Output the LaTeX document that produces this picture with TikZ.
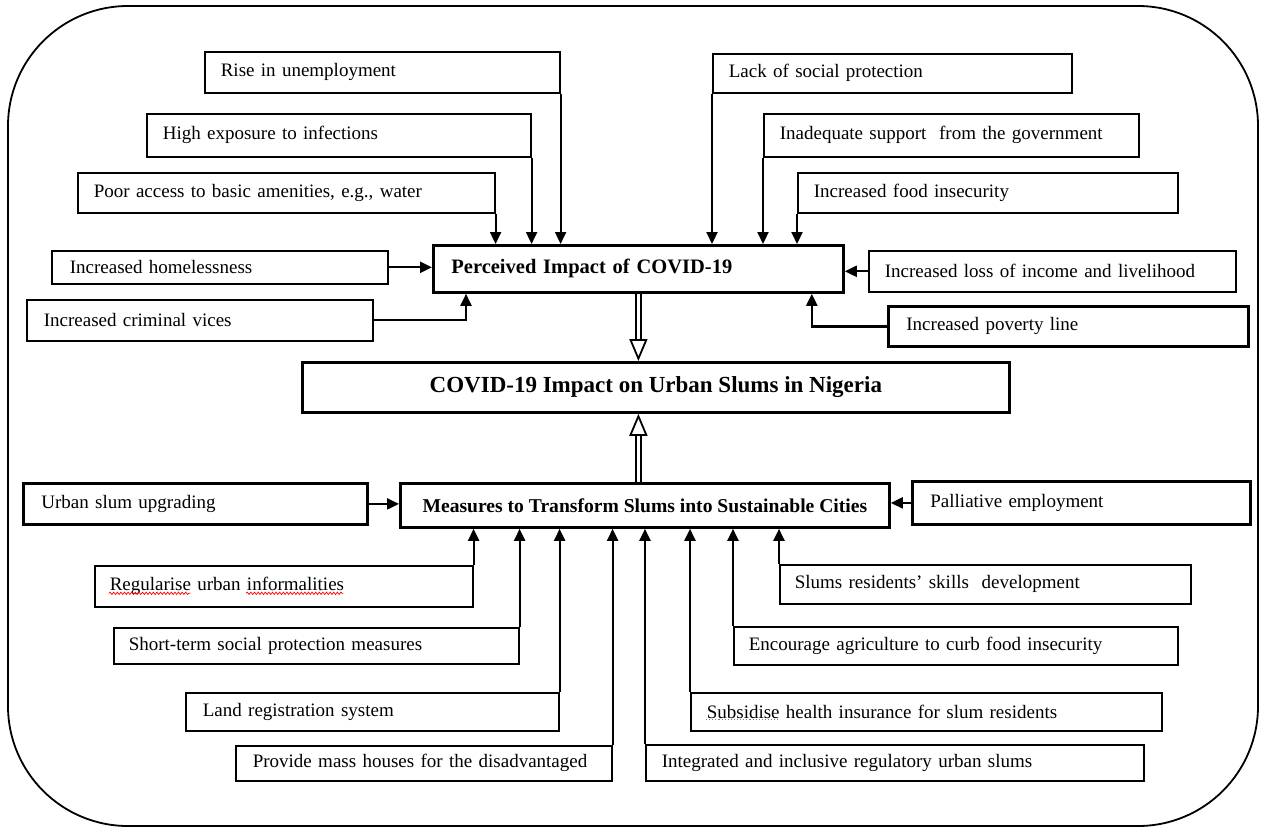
\documentclass[tikz,border=0pt]{standalone}
\usepackage{fontspec}
\setmainfont{Liberation Serif}
\usetikzlibrary{arrows.meta,decorations.pathmorphing}
\newlength\wregul
\newlength\wregurb
\newlength\winform
\newlength\wsubs
\tikzset{
  box/.style n args={3}{draw, line width=1.6pt, anchor=north west, inner xsep=#3, inner ysep=0pt,
     minimum height=#2, /utils/exec={\pgfmathsetlengthmacro\boxtw{#1-2*(#3)}}, text width=\boxtw,
     align=left, font=\fontsize{19}{22}\selectfont},
  heavy/.style={line width=2.8pt},
  centrebox/.style n args={2}{draw, line width=2.8pt, anchor=north west, inner sep=0pt,
     minimum width=#1, minimum height=#2},
  frame/.style={draw, line width=1.8pt, rounded corners=120pt, inner sep=0pt},
  arr/.style={line width=2.2pt, -{Triangle[length=12pt, width=11pt]}},
  dbl/.style={double, double distance=3.5pt, line width=1.6pt,
     -{Triangle[open, fill=white, length=22pt, width=18pt, line width=1.8pt]}},
  spellwave/.style={red, line width=0.7pt, decorate, decoration={snake, amplitude=1.2pt, segment length=3.6pt}},
  graydot/.style={gray, line width=1.1pt, dotted},
}
\begin{document}
\begin{tikzpicture}[x=1pt, y=-1pt]
\useasboundingbox (0,0) rectangle (1263,830);
\fill[white] (0,0) rectangle (1263,830);
\node[frame, minimum width=1250pt, minimum height=820pt] (frame) at (633,416) {};

% top boxes
\node[box={355pt}{41pt}{16pt}] (rise) at (204,51) {Rise in unemployment};
\node[box={384pt}{43pt}{16pt}] (high) at (146,113) {High exposure to infections};
\node[box={417pt}{40pt}{16pt}] (poor) at (77,172) {Poor access to basic amenities, e.g., water};
\node[box={359pt}{39pt}{16pt}] (lack) at (712,53) {Lack of social protection};
\node[box={375pt}{43pt}{16pt}] (inad) at (763,113) {Inadequate support~ from the government};
\node[box={380pt}{40pt}{16pt}] (food) at (797,172) {Increased food insecurity};
\node[box={336pt}{33pt}{18pt}] (homeless) at (51,250) {Increased homelessness};
\node[box={367pt}{41pt}{16pt}] (loss) at (868,250) {Increased loss of income and livelihood};
\node[box={346pt}{41pt}{17pt}] (crime) at (26,299) {Increased criminal vices};
\node[box={360pt}{40pt}{18pt}, heavy] (pov) at (887,305) {Increased poverty line};

% central boxes
\node[box={410pt}{47pt}{18pt}, heavy, font=\bfseries\fontsize{20.5}{24}\selectfont] (perc) at (432,244) {Perceived Impact of COVID-19};
\node[centrebox={707pt}{50pt}, font=\bfseries\fontsize{23}{27}\selectfont] (covid) at (301,361) {COVID-19 Impact on Urban Slums in Nigeria};
\node[centrebox={489pt}{44pt}, font=\bfseries\fontsize{19.6}{23}\selectfont] (meas) at (399,482) {Measures to Transform Slums into Sustainable Cities};

% side boxes of measures
\node[box={344pt}{41pt}{18pt}, heavy] (urban) at (22,482) {Urban slum upgrading};
\node[box={338pt}{43pt}{18pt}, heavy] (pall) at (911,480) {Palliative employment};

% bottom boxes
\node[box={378pt}{41pt}{15pt}] (reg) at (94,565) {{\setbox0\hbox{Regularise}\global\wregul=\wd0
  \setbox0\hbox{Regularise urban }\global\wregurb=\wd0
  \setbox0\hbox{informalities}\global\winform=\wd0}Regularise urban informalities};
\node[box={405pt}{36pt}{15pt}] (short) at (113,627) {Short-term social protection measures};
\node[box={373pt}{38pt}{17pt}] (land) at (185,692) {Land registration system};
\node[box={376pt}{35pt}{17pt}] (mass) at (235,745) {Provide mass houses for the disadvantaged};
\node[box={411pt}{39pt}{15pt}] (slums) at (779,564) {Slums residents' skills~ development};
\node[box={444pt}{38pt}{15pt}] (enc) at (733,626) {Encourage agriculture to curb food insecurity};
\node[box={471pt}{38pt}{16pt}] (subs) at (690,692) {{\setbox0\hbox{Subsidise}\global\wsubs=\wd0}Subsidise health insurance for slum residents};
\node[box={498pt}{36pt}{16pt}] (integ) at (645,744) {Integrated and inclusive regulatory urban slums};

% spell-check underlines
\coordinate (rw) at ([xshift=15pt, yshift=-7pt]reg.west);
\draw[spellwave] (rw) -- ([xshift=\wregul]rw);
\draw[spellwave] ([xshift=\wregurb]rw) -- ([xshift=\wregurb+\winform]rw);
\coordinate (sw) at ([xshift=16pt, yshift=-8pt]subs.west);
\draw[graydot] (sw) -- ([xshift=\wsubs]sw);

% connectors into Perceived Impact
\foreach \n in {poor,high,rise} \draw[arr] (\n.south east) -- (\n.south east |- perc.north);
\foreach \n in {lack,inad,food} \draw[arr] (\n.south west) -- (\n.south west |- perc.north);
\draw[arr] (homeless.east) -- (homeless.east -| perc.west);
\draw[arr] (loss.west) -- (loss.west -| perc.east);
\coordinate (cj) at ([xshift=34pt]perc.south west);
\coordinate (pj) at ([xshift=-33pt]perc.south east);
\draw[arr] (crime.east) -| (cj);
\draw[arr] (pov.west) -| (pj);

% double arrows
\draw[dbl] (perc.south) -- (perc.south |- covid.north);
\draw[dbl] (perc.south |- meas.north) -- (perc.south |- covid.south);

% connectors into Measures
\draw[arr] (urban.east) -- (urban.east -| meas.west);
\draw[arr] (pall.west) -- (pall.west -| meas.east);
\foreach \n in {reg,short,land,mass} \draw[arr] (\n.north east) -- (\n.north east |- meas.south);
\foreach \n in {slums,enc,subs,integ} \draw[arr] (\n.north west) -- (\n.north west |- meas.south);
\end{tikzpicture}
\end{document}
